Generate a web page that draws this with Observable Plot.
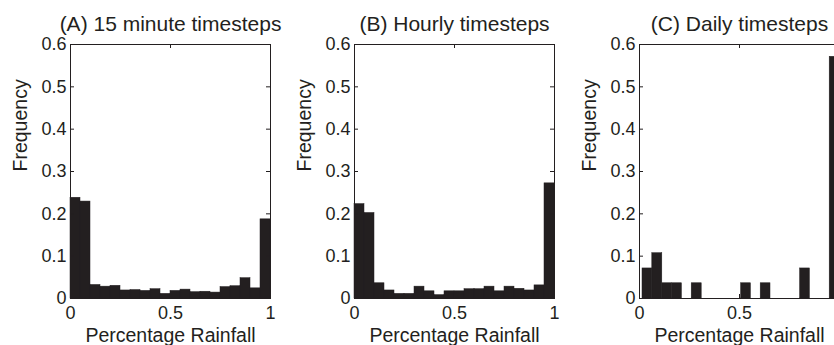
<!DOCTYPE html>
<html>
<head>
<meta charset="utf-8">
<script src="https://cdn.jsdelivr.net/npm/d3@7"></script>
<script src="https://cdn.jsdelivr.net/npm/@observablehq/plot@0.6"></script>
<style>
  html, body { margin: 0; padding: 0; background: #fff; }
  #chart { position: relative; width: 834px; height: 345px; overflow: hidden; background: #fff; }
  #chart svg { position: absolute; top: 0; }
</style>
</head>
<body>
<div id="chart"></div>
<script>
// ---- data ----
const titles = ["(A) 15 minute timesteps", "(B) Hourly timesteps", "(C) Daily timesteps"];
const xLabel = "Percentage Rainfall";
const yLabel = "Frequency";
const xTicks = [0, 0.5, 1];
const xTickLabelsC = [0, 0.5]; // the "1" of panel C lies outside the cropped picture
const yTicks = [0, 0.1, 0.2, 0.3, 0.4, 0.5, 0.6];

// bin edges (21 edges -> 20 bins)
const edgesA = [0, 0.05, 0.1, 0.15, 0.2, 0.25, 0.3, 0.35, 0.4, 0.45, 0.5, 0.55, 0.6, 0.65, 0.7, 0.75, 0.8, 0.85, 0.9, 0.95, 1];
const edgesB = [0, 0.05, 0.1, 0.15, 0.2, 0.25, 0.3, 0.35, 0.4, 0.45, 0.5, 0.55, 0.6, 0.65, 0.7, 0.75, 0.8, 0.85, 0.9, 0.95, 1];
const edgesC = [0.015, 0.064, 0.114, 0.163, 0.212, 0.261, 0.311, 0.36, 0.409, 0.458, 0.508, 0.557, 0.606, 0.655, 0.704, 0.754, 0.803, 0.852, 0.901, 0.951, 1];

const freqA = [0.238, 0.229, 0.032, 0.028, 0.030, 0.019, 0.020, 0.018, 0.022, 0.011, 0.018, 0.021, 0.015, 0.016, 0.014, 0.027, 0.029, 0.048, 0.024, 0.187];
const freqB = [0.223, 0.202, 0.036, 0.019, 0.011, 0.011, 0.028, 0.017, 0.008, 0.017, 0.017, 0.022, 0.022, 0.028, 0.017, 0.028, 0.023, 0.019, 0.031, 0.272];
const freqC = [0.071, 0.107, 0.036, 0.036, 0, 0.036, 0, 0, 0, 0, 0.036, 0, 0.036, 0, 0, 0, 0.071, 0, 0, 0.571];

// ---- drawing ----
const ink = "#231f20";
const W = 290, H = 345, mL = 70, mR = 20, mT = 44, mB = 47;
const innerW = W - mL - mR, innerH = H - mT - mB;
const lefts = [0, 284, 569];

function panel(title, edges, freq, labelTicks) {
  const bins = freq.map((f, i) => ({x1: edges[i], x2: edges[i + 1], f}));
  return Plot.plot({
    width: W, height: H,
    marginLeft: mL, marginRight: mR, marginTop: mT, marginBottom: mB,
    style: {background: "transparent", overflow: "visible", fontFamily: "'Liberation Sans', Arial, Helvetica, sans-serif", fontSize: "18px", color: ink, maxWidth: "none"},
    x: {domain: [0, 1], ticks: labelTicks, tickFormat: String, tickSize: 0, tickPadding: 8, label: null},
    y: {domain: [0, 0.6], ticks: yTicks, tickFormat: String, tickSize: 0, tickPadding: 4, label: null},
    marks: [
      Plot.rectY(bins, {x1: "x1", x2: "x2", y: "f", fill: ink, stroke: ink, strokeWidth: 0.5}),
      Plot.ruleX(xTicks, {x: d => d, insetTop: innerH - 4, stroke: ink}),
      Plot.ruleX(xTicks, {x: d => d, insetBottom: innerH - 4, stroke: ink}),
      Plot.ruleY(yTicks, {y: d => d, insetRight: innerW - 4, stroke: ink}),
      Plot.ruleY(yTicks, {y: d => d, insetLeft: innerW - 4, stroke: ink}),
      Plot.frame({stroke: ink, strokeWidth: 1}),
      Plot.text([title], {text: d => d, frameAnchor: "top", lineAnchor: "bottom", dy: -14, fontSize: 21, fill: ink}),
      Plot.text([xLabel], {text: d => d, frameAnchor: "bottom", lineAnchor: "bottom", dy: 43.5, fontSize: 19.5, fill: ink}),
      Plot.text([yLabel], {text: d => d, frameAnchor: "left", rotate: -90, dx: -50, fontSize: 19.5, fill: ink})
    ]
  });
}

const chart = document.getElementById("chart");
const panels = [
  panel(titles[0], edgesA, freqA, xTicks),
  panel(titles[1], edgesB, freqB, xTicks),
  panel(titles[2], edgesC, freqC, xTickLabelsC)
];
panels.forEach((p, i) => { p.style.left = lefts[i] + "px"; chart.appendChild(p); });
</script>
</body>
</html>
